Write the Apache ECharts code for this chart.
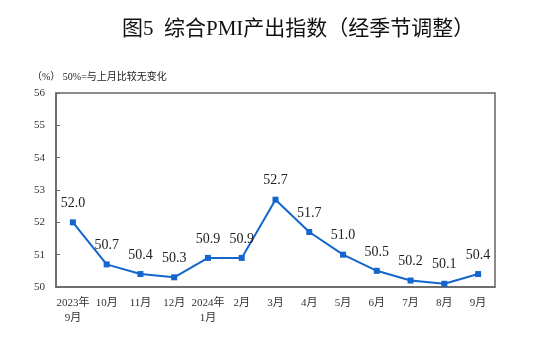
<!DOCTYPE html>
<html>
<head>
<meta charset="utf-8">
<script src="https://cdn.jsdelivr.net/npm/echarts@6/dist/echarts.min.js"></script>
<style>
html,body{margin:0;padding:0;background:#fff;}
#chart{width:553px;height:346px;}
</style>
</head>
<body>
<div id="chart"></div>
<script>
// Monthly composite PMI output index (seasonally adjusted)
const categories = ['2023年\n9月','10月','11月','12月','2024年\n1月','2月','3月','4月','5月','6月','7月','8月','9月'];
const pmiValues = [52.0, 50.7, 50.4, 50.3, 50.9, 50.9, 52.7, 51.7, 51.0, 50.5, 50.2, 50.1, 50.4];
const yTicks = [50, 51, 52, 53, 54, 55, 56];

const serif = '"Liberation Serif","Noto Sans CJK SC",serif';
const chart = echarts.init(document.getElementById('chart'));
chart.setOption({
  animation: false,
  backgroundColor: '#ffffff',
  title: [
    {
      text: '图5  综合PMI产出指数（经季节调整）',
      left: 117, top: 14,
      textStyle: { fontFamily: serif, fontSize: 21, fontWeight: 'normal', color: '#111' }
    },
    {
      text: '（%） 50%=与上月比较无变化',
      left: 27, top: 67,
      textStyle: { fontFamily: serif, fontSize: 10, fontWeight: 'normal', color: '#222' }
    }
  ],
  grid: { left: 56, right: 58, top: 93, bottom: 59, show: true, borderColor: '#666', borderWidth: 1.5 },
  xAxis: {
    type: 'category',
    data: categories,
    boundaryGap: true,
    axisLine: { lineStyle: { color: '#666', width: 1.5 } },
    axisTick: { inside: true, length: 5, lineStyle: { color: '#666' } },
    axisLabel: { fontFamily: serif, fontSize: 11, color: '#333', margin: 9, lineHeight: 15, interval: 0 }
  },
  yAxis: {
    type: 'value',
    min: yTicks[0], max: yTicks[yTicks.length - 1], interval: 1,
    splitLine: { show: false },
    axisLine: { show: true, lineStyle: { color: '#666', width: 1.5 } },
    axisTick: { show: true, inside: true, length: 4, lineStyle: { color: '#666' } },
    axisLabel: { fontFamily: serif, fontSize: 11, color: '#333', margin: 11 }
  },
  series: [{
    type: 'line',
    data: pmiValues,
    symbol: 'rect',
    symbolSize: 6,
    lineStyle: { color: '#1466cc', width: 2 },
    itemStyle: { color: '#1466cc' },
    label: {
      show: true, position: 'top', distance: 9,
      formatter: p => p.value.toFixed(1),
      fontFamily: serif, fontSize: 14, color: '#222'
    }
  }]
});
</script>
</body>
</html>
